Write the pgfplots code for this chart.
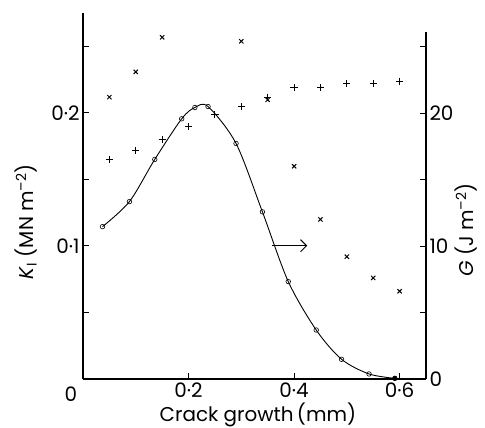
\documentclass[border=0pt]{standalone}
\usepackage{fontspec}
\setmainfont{Poppins}
\usepackage{pgfplots}
\pgfplotsset{compat=1.18}
\usetikzlibrary{arrows.meta}

\pgfplotstableread{
x K
0.037 0.1145
0.088 0.1333
0.136 0.1650
0.187 0.1955
0.212 0.2040
0.237 0.2047
0.290 0.1770
0.340 0.1256
0.389 0.0732
0.442 0.0368
0.490 0.0148
0.542 0.0038
0.591 0.0005
}\Kdata

\pgfplotstableread{
x G
0.05 16.5
0.10 17.2
0.15 18.0
0.20 19.0
0.25 19.9
0.30 20.5
0.35 21.2
0.40 21.9
0.45 21.9
0.50 22.2
0.55 22.2
0.60 22.4
}\Gplus

\pgfplotstableread{
x G
0.05 21.2
0.10 23.1
0.15 25.7
0.30 25.4
0.35 21.0
0.40 16.0
0.45 12.0
0.50 9.2
0.55 7.6
0.60 6.6
}\Gcross

\begin{document}
\begin{tikzpicture}[font=\fontsize{20}{24}\selectfont]
\begin{axis}[
  name=main,
  scale only axis, width=343bp, height=366bp,
  at={(0,0)}, anchor=south west,
  xmin=0, xmax=0.65, ymin=0, ymax=0.275,
  axis x line=bottom, axis y line=left,
  axis line style={-, line width=1.1pt},
  tick align=inside, major tick length=6bp, minor tick length=6bp,
  tick style={line width=1pt, black},
  xtick={0.2,0.4,0.6}, xticklabels={0·2,0·4,0·6},
  ytick={0.1,0.2}, yticklabels={0·1,0·2},
  minor ytick={0.05,0.15,0.25},
  xlabel={Crack growth\,(mm)},
  xlabel style={at={(axis description cs:0.51,0)}, anchor=north, yshift=-20bp},
  ylabel={\textit{K}\textsubscript{\rmfamily I} (MN m\textsuperscript{–2})},
  ylabel style={at={(axis description cs:-0.166,0.43)}, anchor=center},
  clip=false,
]
\addplot[black, line width=0.9pt, smooth, tension=0.5, mark=o, mark size=2.3pt, mark options={line width=0.6pt, fill=white}] table[x=x,y=K] {\Kdata};
\addplot[only marks, mark=*, mark size=2.2pt, black] coordinates {(0.591,0.0005)};
\draw[line width=1pt, -{Straight Barb[length=6bp, width=12bp, line width=1pt]}] (axis cs:0.359,0.1002) -- (axis cs:0.425,0.1002);
\node[anchor=center] at (axis cs:0,0) [xshift=-12bp, yshift=-15bp] {0};
\end{axis}
\begin{axis}[
  scale only axis, width=343bp, height=347bp,
  at={(0,0)}, anchor=south west,
  xmin=0, xmax=0.65, ymin=0, ymax=26.1,
  axis x line=none, axis y line=right,
  axis line style={-, line width=1.1pt},
  tick align=inside, major tick length=6bp, minor tick length=6bp,
  tick style={line width=1pt, black},
  ytick={0,10,20}, yticklabels={0,10,20},
  minor ytick={5,15,25},
  ylabel={\textit{G} (J m\textsuperscript{–2})},
  ylabel style={at={(axis description cs:1.117,0.43)}, anchor=center},
  clip=false,
]
\addplot[only marks, mark=+, mark size=3.6pt, mark options={line width=1pt}] table[x=x,y=G] {\Gplus};
\addplot[only marks, mark=x, mark size=3pt, mark options={line width=1pt}] table[x=x,y=G] {\Gcross};
\end{axis}
\pgfresetboundingbox
\useasboundingbox (-83bp,-49bp) rectangle (402bp,379bp);
\end{tikzpicture}
\end{document}
